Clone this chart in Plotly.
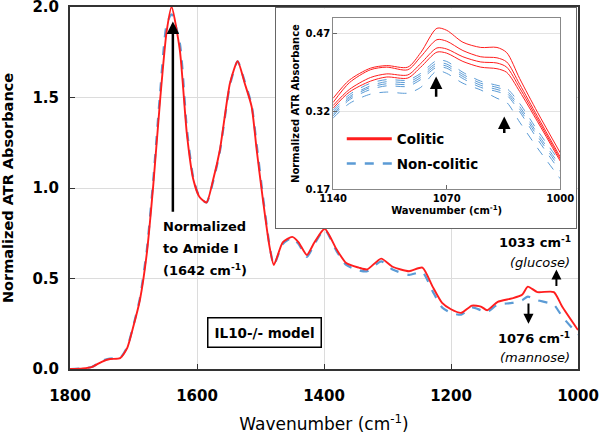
import plotly.graph_objects as go

# ---------------- main spectrum data ----------------
wn_main = [1800, 1780, 1765, 1750, 1737, 1721, 1710, 1701, 1690, 1679, 1669, 1658, 1648,
           1640, 1627, 1616, 1606, 1596, 1585, 1575, 1564, 1548, 1536, 1525, 1514, 1506,
           1496, 1486, 1479, 1465, 1450, 1440, 1427, 1415, 1399, 1380, 1365, 1345, 1332,
           1310, 1292, 1266, 1245, 1229, 1214, 1200, 1184, 1167, 1153, 1143, 1127, 1104,
           1088, 1079, 1064, 1038, 1025, 1000]
colitic_main = [0.0, 0.003, 0.012, 0.04, 0.055, 0.06, 0.115, 0.225, 0.38, 0.64, 1.01, 1.49, 1.86,
                2.0, 1.76, 1.30, 1.05, 0.95, 0.92, 1.04, 1.21, 1.58, 1.70, 1.58, 1.45, 1.21,
                0.93, 0.68, 0.575, 0.70, 0.73, 0.70, 0.63, 0.70, 0.775, 0.66, 0.585, 0.56, 0.55,
                0.61, 0.565, 0.54, 0.56, 0.455, 0.365, 0.33, 0.31, 0.35, 0.345, 0.325, 0.37, 0.39,
                0.41, 0.455, 0.425, 0.425, 0.345, 0.215]
noncolitic_main = [0.0, 0.003, 0.012, 0.045, 0.058, 0.062, 0.12, 0.23, 0.39, 0.66, 1.04, 1.53, 1.90,
                   1.96, 1.80, 1.33, 1.06, 0.95, 0.92, 1.03, 1.20, 1.57, 1.70, 1.59, 1.46, 1.24,
                   0.95, 0.69, 0.575, 0.69, 0.725, 0.69, 0.62, 0.69, 0.77, 0.65, 0.575, 0.545, 0.54,
                   0.595, 0.55, 0.52, 0.535, 0.43, 0.34, 0.31, 0.30, 0.34, 0.325, 0.315, 0.355, 0.365,
                   0.38, 0.40, 0.38, 0.355, 0.29, 0.19]

# ---------------- inset data (individual spectra) ----------------
wn_inset = [1140, 1130, 1117, 1107, 1094, 1086, 1076, 1070, 1060, 1049, 1039, 1033, 1025, 1014, 1000]
colitic_inset = [
    [0.345, 0.380, 0.403, 0.408, 0.405, 0.433, 0.480, 0.476, 0.453, 0.443, 0.443, 0.433, 0.383, 0.318, 0.240],
    [0.337, 0.375, 0.400, 0.405, 0.400, 0.425, 0.458, 0.455, 0.437, 0.425, 0.423, 0.415, 0.372, 0.310, 0.232],
    [0.331, 0.362, 0.385, 0.392, 0.390, 0.412, 0.442, 0.440, 0.425, 0.415, 0.413, 0.405, 0.365, 0.305, 0.228],
    [0.326, 0.357, 0.378, 0.386, 0.384, 0.405, 0.434, 0.432, 0.416, 0.405, 0.402, 0.395, 0.358, 0.300, 0.224],
]
noncolitic_inset = [
    [0.322, 0.352, 0.374, 0.381, 0.380, 0.393, 0.418, 0.416, 0.395, 0.378, 0.370, 0.364, 0.335, 0.283, 0.222],
    [0.318, 0.348, 0.369, 0.377, 0.376, 0.389, 0.413, 0.411, 0.391, 0.374, 0.366, 0.359, 0.329, 0.277, 0.215],
    [0.314, 0.345, 0.366, 0.373, 0.372, 0.385, 0.409, 0.407, 0.387, 0.370, 0.362, 0.355, 0.324, 0.272, 0.210],
    [0.311, 0.342, 0.362, 0.369, 0.368, 0.381, 0.405, 0.403, 0.383, 0.366, 0.358, 0.351, 0.319, 0.266, 0.204],
    [0.307, 0.335, 0.353, 0.357, 0.355, 0.366, 0.398, 0.393, 0.374, 0.361, 0.345, 0.337, 0.299, 0.249, 0.190],
]

main_xticks = [1800, 1600, 1400, 1200, 1000]
main_yticks = [0.0, 0.5, 1.0, 1.5, 2.0]
inset_xticks = [1140, 1070, 1000]
inset_yticks = [0.17, 0.32, 0.47]

RED = "#FF1E1E"
BLUE = "#5B9BD5"
FONT = "DejaVu Sans"

fig = go.Figure()

fig.add_trace(go.Scatter(x=wn_main, y=noncolitic_main, mode="lines",
                         line=dict(color=BLUE, width=2.2, dash="dash", shape="spline", smoothing=0.6),
                         showlegend=False, hoverinfo="skip", xaxis="x", yaxis="y"))
fig.add_trace(go.Scatter(x=wn_main, y=colitic_main, mode="lines",
                         line=dict(color=RED, width=1.9, shape="spline", smoothing=0.6),
                         showlegend=False, hoverinfo="skip", xaxis="x", yaxis="y"))

# invisible trace that creates the white inset panel subplot
fig.add_trace(go.Scatter(x=[None], y=[None], mode="lines", showlegend=False, hoverinfo="skip",
                         xaxis="x2", yaxis="y2"))

for s in noncolitic_inset:
    fig.add_trace(go.Scatter(x=wn_inset, y=s, mode="lines",
                             line=dict(color=BLUE, width=1, dash="dash", shape="spline", smoothing=0.8),
                             showlegend=False, hoverinfo="skip", xaxis="x3", yaxis="y3"))
for s in colitic_inset:
    fig.add_trace(go.Scatter(x=wn_inset, y=s, mode="lines",
                             line=dict(color=RED, width=1, shape="spline", smoothing=0.8),
                             showlegend=False, hoverinfo="skip", xaxis="x3", yaxis="y3"))

# legend entries
fig.add_trace(go.Scatter(x=[None], y=[None], mode="lines", name="<b>Colitic</b>", legendgroup="a",
                         line=dict(color=RED, width=3), xaxis="x3", yaxis="y3"))
fig.add_trace(go.Scatter(x=[None], y=[None], mode="lines", name="<b>Non-colitic</b>", legendgroup="b",
                         line=dict(color=BLUE, width=2.5, dash="dash"), xaxis="x3", yaxis="y3"))

axis_font = dict(family=FONT, size=15, color="black")
inset_font = dict(family=FONT, size=10, color="black")

fig.update_layout(
    width=600, height=434,
    margin=dict(l=70, r=22, t=7, b=65, autoexpand=False),
    paper_bgcolor="white", plot_bgcolor="white",
    font=dict(family=FONT, color="black"),
    xaxis=dict(domain=[0, 1], range=[1800, 1000], tickvals=main_xticks,
               ticktext=[f"<b>{v}</b>" for v in main_xticks], ticklabelstandoff=12,
               ticklabeloverflow="allow",
               tickfont=axis_font, ticks="inside", ticklen=5, tickcolor="#333",
               showline=True, linecolor="#333", linewidth=2, mirror=True,
               showgrid=True, gridcolor="#DCDCDC", gridwidth=1, zeroline=False,
               title=dict(text="Wavenumber (cm<sup>-1</sup>)", font=dict(family=FONT, size=17), standoff=16)),
    yaxis=dict(domain=[0, 1], range=[0, 2], tickvals=main_yticks,
               ticktext=[f"<b>{v:.1f}</b>" for v in main_yticks], ticklabelstandoff=6,
               ticklabeloverflow="allow",
               tickfont=axis_font, ticks="inside", ticklen=5, tickcolor="#333",
               showline=True, linecolor="#333", linewidth=2, mirror=True,
               showgrid=True, gridcolor="#DCDCDC", gridwidth=1, zeroline=False,
               title=dict(text="<b>Normalized ATR Absorbance</b>", font=dict(family=FONT, size=14.5), standoff=16)),
    # white panel behind the inset
    xaxis2=dict(domain=[0.4055, 0.997], anchor="y2", range=[0, 1], showgrid=False, zeroline=False,
                showticklabels=False, ticks="", showline=True, linecolor="#666", linewidth=1, mirror=True),
    yaxis2=dict(domain=[0.3895, 0.996], anchor="x2", range=[0, 1], showgrid=False, zeroline=False,
                showticklabels=False, ticks="", showline=True, linecolor="#666", linewidth=1, mirror=True),
    # inset
    xaxis3=dict(domain=[0.518, 0.965], anchor="y3", range=[1140, 1000], tickvals=inset_xticks,
                ticktext=[f"<b>{v}</b>" for v in inset_xticks],
                tickfont=inset_font, ticks="inside", ticklen=4, tickcolor="#666",
                showline=True, linecolor="#888", linewidth=1, mirror=True,
                showgrid=False, zeroline=False,
                title=dict(text="<b>Wavenumber (cm<sup>-1</sup>)</b>", font=dict(family=FONT, size=10), standoff=0)),
    yaxis3=dict(domain=[0.497, 0.97], anchor="x3", range=[0.17, 0.50], tickvals=inset_yticks,
                ticktext=[f"<b>{v:.2f}</b>" for v in inset_yticks],
                tickfont=inset_font, ticks="inside", ticklen=4, tickcolor="#666",
                showline=True, linecolor="#888", linewidth=1, mirror=True,
                showgrid=True, gridcolor="#E3E3E3", zeroline=False,
                title=dict(text="<b>Normalized ATR Absorbance</b>", font=dict(family=FONT, size=10), standoff=3)),
    legend=dict(x=0.535, y=0.678, xanchor="left", yanchor="top", bgcolor="rgba(0,0,0,0)",
                font=dict(family=FONT, size=13.5, color="black"), itemwidth=45,
                traceorder="grouped", tracegroupgap=4),
    showlegend=True,
)

# annotations main
fig.add_annotation(x=1638, y=1.92, ax=1638, ay=0.86, xref="x", yref="y", axref="x", ayref="y",
                   text="", showarrow=True, arrowhead=2, arrowsize=1, arrowwidth=2.5, arrowcolor="black")
for txt, yv in [("<b>Normalized</b>", 0.79), ("<b>to Amide I</b>", 0.668), ("<b>(1642 cm<sup>-1</sup>)</b>", 0.547)]:
    fig.add_annotation(x=1657, y=yv, xref="x", yref="y", xanchor="left", align="left",
                       text=txt, showarrow=False, font=dict(family=FONT, size=13))
fig.add_annotation(x=1493, y=0.2, xref="x", yref="y", text="<b>IL10-/- model</b>", showarrow=False,
                   font=dict(family=FONT, size=13.5), bordercolor="black", borderwidth=1.5, borderpad=6,
                   bgcolor="white")
fig.add_annotation(x=1008, y=0.70, xref="x", yref="y", xanchor="right", text="<b>1033 cm<sup>-1</sup></b>",
                   showarrow=False, font=dict(family=FONT, size=13))
fig.add_annotation(x=1010, y=0.59, xref="x", yref="y", xanchor="right", text="<i>(glucose)</i>",
                   showarrow=False, font=dict(family=FONT, size=13))
fig.add_annotation(x=1034, y=0.55, ax=1034, ay=0.45, xref="x", yref="y", axref="x", ayref="y",
                   text="", showarrow=True, arrowhead=2, arrowsize=1, arrowwidth=2, arrowcolor="black")
fig.add_annotation(x=1078, y=0.25, ax=1078, ay=0.37, xref="x", yref="y", axref="x", ayref="y",
                   text="", showarrow=True, arrowhead=2, arrowsize=1, arrowwidth=2, arrowcolor="black")
fig.add_annotation(x=1010, y=0.17, xref="x", yref="y", xanchor="right", text="<b>1076 cm<sup>-1</sup></b>",
                   showarrow=False, font=dict(family=FONT, size=13))
fig.add_annotation(x=1010, y=0.066, xref="x", yref="y", xanchor="right", text="<i>(mannose)</i>",
                   showarrow=False, font=dict(family=FONT, size=13))

# inset arrows
fig.add_annotation(x=1076.5, y=0.387, ax=1076.5, ay=0.345, xref="x3", yref="y3", axref="x3", ayref="y3",
                   text="", showarrow=True, arrowhead=2, arrowsize=1, arrowwidth=2.5, arrowcolor="black")
fig.add_annotation(x=1034.5, y=0.31, ax=1034.5, ay=0.275, xref="x3", yref="y3", axref="x3", ayref="y3",
                   text="", showarrow=True, arrowhead=2, arrowsize=1, arrowwidth=2.5, arrowcolor="black")

fig.write_html("out.html", config={"displayModeBar": False},
               post_script="document.body.style.margin='0px';document.body.style.padding='0px';")
